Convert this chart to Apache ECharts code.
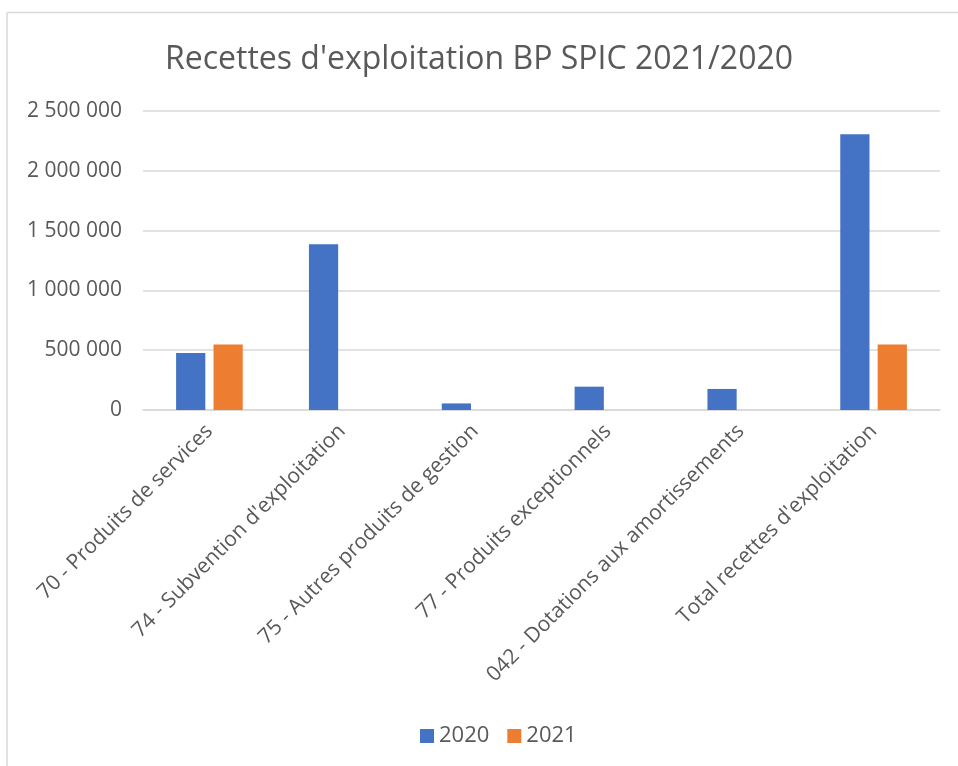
<!DOCTYPE html>
<html>
<head>
<meta charset="utf-8">
<script src="https://cdn.jsdelivr.net/npm/echarts@6/dist/echarts.min.js"></script>
<style>
html,body{margin:0;padding:0;background:#fff;}
#main{width:958px;height:766px;}
</style>
</head>
<body>
<div id="main"></div>
<script>
const categories = [
  "70 - Produits de services",
  "74 - Subvention d'exploitation",
  "75 - Autres produits de gestion",
  "77 - Produits exceptionnels",
  "042 - Dotations aux amortissements",
  "Total recettes d'exploitation"
];
const values2020 = [477000, 1385000, 55000, 195000, 176000, 2305000];
const values2021 = [548000, null, null, null, null, 548000];
const yTicks = [0, 500000, 1000000, 1500000, 2000000, 2500000];

const FONT = "Open Sans";
const TXT = "#595959";

function fmt(v) {
  return String(v).replace(/\B(?=(\d{3})+(?!\d))/g, " ");
}

const chart = echarts.init(document.getElementById('main'));
chart.setOption({
  animation: false,
  backgroundColor: '#fff',
  title: {
    text: "Recettes d'exploitation BP SPIC 2021/2020",
    left: 'center',
    top: 39,
    textStyle: { fontFamily: FONT, fontSize: 32, fontWeight: 'normal', color: TXT }
  },
  legend: {
    bottom: 14,
    left: 415,
    itemWidth: 14,
    itemHeight: 14,
    itemGap: 18,
    icon: 'rect',
    textStyle: { fontFamily: FONT, fontSize: 22, color: TXT }
  },
  grid: { left: 143, right: 18, top: 111, bottom: 356 },
  xAxis: {
    type: 'category',
    data: categories,
    axisLine: { lineStyle: { color: '#d9d9d9', width: 1.5 } },
    axisTick: { show: false },
    axisLabel: {
      rotate: 45,
      interval: 0,
      margin: 18,
      fontFamily: FONT,
      fontSize: 21,
      color: TXT
    }
  },
  yAxis: {
    type: 'value',
    min: yTicks[0],
    max: yTicks[yTicks.length - 1],
    interval: yTicks[1] - yTicks[0],
    axisLine: { show: false },
    axisTick: { show: false },
    splitLine: { lineStyle: { color: '#d9d9d9', width: 1.5 } },
    axisLabel: {
      margin: 21,
      fontFamily: FONT,
      fontSize: 21,
      color: TXT,
      formatter: fmt
    }
  },
  series: [
    {
      name: '2020',
      type: 'bar',
      data: values2020,
      barWidth: '22%',
      barGap: '28%',
      itemStyle: { color: '#4472C4' }
    },
    {
      name: '2021',
      type: 'bar',
      data: values2021,
      barWidth: '22%',
      barGap: '28%',
      itemStyle: { color: '#ED7D31' }
    }
  ],
  graphic: [
    { type: 'line', shape: { x1: 7, y1: 12.5, x2: 958, y2: 12.5 }, style: { stroke: '#d9d9d9', lineWidth: 1.5 } },
    { type: 'line', shape: { x1: 7, y1: 12.5, x2: 7, y2: 766 }, style: { stroke: '#d9d9d9', lineWidth: 1.5 } }
  ]
});
</script>
</body>
</html>
